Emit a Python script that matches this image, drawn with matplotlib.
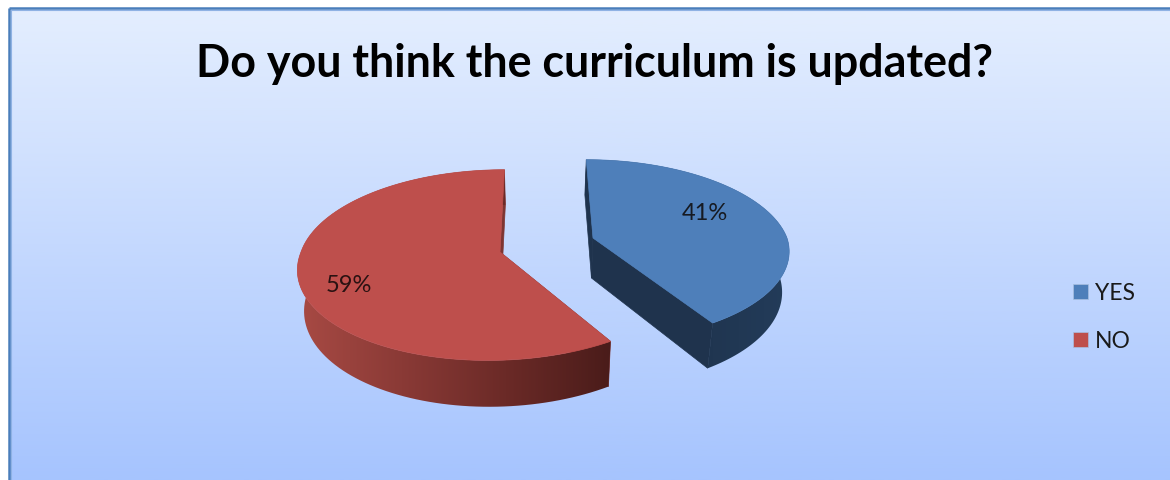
import numpy as np
import matplotlib
matplotlib.use('Agg')
import matplotlib.pyplot as plt
from matplotlib.colors import LinearSegmentedColormap
from matplotlib.patches import Polygon, Rectangle

categories = ['YES', 'NO']
shares = [41, 59]

W, H = 1170, 481
VANISH_X = 537
PERSP = 0.137
DEPTH = 40
BOTTOM_SCALE = 0.972
NEAR_SKEW = 40

plt.rcParams['font.family'] = ['Lato', 'DejaVu Sans']


def project(theta, apex, rx, yscale, bottom=False):
    # theta runs clockwise from twelve o'clock, in radians
    u, v = np.sin(theta), np.cos(theta)
    w = 1 / (1 + PERSP * v)
    x = VANISH_X + (apex[0] + rx * u - VANISH_X) * w
    # near half of the disc leans a little to the left
    x = x - NEAR_SKEW * np.clip(w - 1, 0, None)
    y = apex[1] + yscale * (w - 1)
    if bottom:
        x = VANISH_X + (x - VANISH_X) * BOTTOM_SCALE
        y = y + DEPTH * w
    return x, y


def ring(a0, a1, apex, rx, yscale, bottom=False):
    theta = np.linspace(a0, a1, 120)
    x, y = project(theta, apex, rx, yscale, bottom)
    return np.column_stack([x, y])


def draw_slice(ax, a0, a1, apex, rx, yscale, top_color, radial_color, wall):
    ap_top = np.array([apex])
    ap_bot = np.array([[VANISH_X + (apex[0] - VANISH_X) * BOTTOM_SCALE, apex[1] + DEPTH]])
    top = ring(a0, a1, apex, rx, yscale)
    bot = ring(a0, a1, apex, rx, yscale, bottom=True)

    # radial faces first, the top face covers whatever is not visible
    for idx in (0, -1):
        quad = np.vstack([ap_top, top[[idx]], bot[[idx]], ap_bot])
        ax.add_patch(Polygon(quad, closed=True, fc=radial_color, ec=radial_color, lw=0.5, zorder=3))

    outer = np.vstack([top, bot[::-1]])
    patch = Polygon(outer, closed=True, fc='none', ec='none', zorder=4)
    ax.add_patch(patch)
    grad = np.linspace(0, 1, 256).reshape(1, -1)
    im = ax.imshow(grad, cmap=wall, aspect='auto', zorder=4,
                   extent=(outer[:, 0].min(), outer[:, 0].max(), outer[:, 1].max(), outer[:, 1].min()))
    im.set_clip_path(patch)

    face = np.vstack([ap_top, top])
    ax.add_patch(Polygon(face, closed=True, fc=top_color, ec=top_color, lw=0.5, zorder=5))


fig = plt.figure(figsize=(W / 100, H / 100), dpi=100, facecolor='white')
ax = fig.add_axes([0, 0, 1, 1])
ax.axis('off')

# panel background with its vertical gradient
bg = LinearSegmentedColormap.from_list('bg', ['#e4eefe', '#a6c4fe'])
ax.imshow(np.linspace(0, 1, 256).reshape(-1, 1), cmap=bg, aspect='auto', extent=(9, W, H, 9), zorder=1)
ax.plot([9, 9], [H, 9], color='#4a7ebb', lw=1.8, zorder=2, solid_capstyle='butt')
ax.plot([9, W], [9, 9], color='#4a7ebb', lw=1.8, zorder=2, solid_capstyle='butt')
ax.plot([11, 11], [H, 11], color='#8fb2e4', lw=0.8, zorder=2)
ax.plot([11, W], [11, 11], color='#8fb2e4', lw=0.8, zorder=2)

ax.text(595, 64, 'Do you think the curriculum is updated?', ha='center', va='center',
        fontsize=32.3, fontweight='bold', color='black', zorder=6)

# slice angles come straight from the shares
edges = 2 * np.pi * np.cumsum([0] + shares) / sum(shares)

red_wall = LinearSegmentedColormap.from_list('red_wall', ['#a84a44', '#8a3a36', '#6b2a27', '#4a1c1a'])
blue_wall = LinearSegmentedColormap.from_list('blue_wall', ['#1f334d', '#1f344e', '#233c5a'])

draw_slice(ax, edges[1], edges[2], (500, 253), 199, 683, '#be4f4c', '#7e3532', red_wall)
draw_slice(ax, edges[0], edges[1], (593, 239), 194, 650, '#4e7fba', '#1f334d', blue_wall)

ax.text(705, 214, f'{shares[0]}%', ha='center', va='center', fontsize=17, color='#161a22', zorder=6)
ax.text(349, 286, f'{shares[1]}%', ha='center', va='center', fontsize=17, color='#2a1212', zorder=6)

# legend
for name, color, y in zip(categories, ['#4e7fba', '#be4f4c'], [292, 340]):
    ax.add_patch(Rectangle((1073, y - 7.5), 15, 15, fc=color, ec='#a9bfe0', lw=0.5, zorder=6))
    ax.text(1095, y + 1.5, name, ha='left', va='center', fontsize=16.5, color='#1a1a1a', zorder=6)

ax.set_xlim(0, W)
ax.set_ylim(H, 0)

fig.savefig('out.png', dpi=100)
